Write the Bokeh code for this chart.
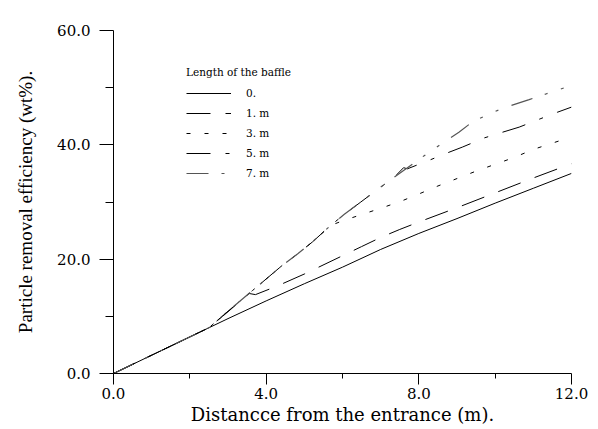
from bokeh.plotting import figure
from bokeh.models import Range1d, FixedTicker, Legend, LegendItem, PrintfTickFormatter
from bokeh.embed import file_html
from bokeh.resources import INLINE

# ---- data ----
x_ticks = [0, 4, 8, 12]
x_minor = [2, 6, 10]
y_ticks = [0, 20, 40, 60]
y_minor = [10, 30, 50]

x_0 = [0, 1, 2, 2.5, 3, 4, 5, 6, 7, 8, 9, 10, 11, 12]
y_0 = [0, 3.2, 6.4, 8.0, 9.6, 12.7, 15.7, 18.6, 21.7, 24.5, 27.1, 29.8, 32.4, 35.0]

x_1 = [0, 1, 2, 2.5, 3, 3.55, 3.72, 4.29, 5, 6, 6.5, 7, 7.5, 8, 9, 10, 11, 12]
y_1 = [0, 3.2, 6.4, 8.0, 10.8, 14.0, 13.8, 15.3, 17.4, 20.6, 22.2, 23.8, 25.2, 26.5, 29.0, 31.6, 34.2, 36.7]

x_3 = [0, 1, 2, 2.5, 3, 3.64, 4.42, 4.82, 5.21, 5.69, 6.0, 6.5, 7.0, 7.52, 8.0, 8.5, 9.0, 9.5, 10.0, 10.5, 11.0, 11.5, 12]
y_3 = [0, 3.2, 6.4, 8.0, 10.9, 14.5, 18.9, 20.9, 23.0, 25.9, 26.7, 27.8, 28.9, 30.1, 31.4, 32.8, 34.1, 35.4, 36.6, 37.8, 39.2, 40.3, 41.4]

x_5 = [0, 1, 2, 2.5, 3, 3.64, 4.42, 4.82, 5.21, 5.69, 6.04, 6.48, 7.0, 7.35, 7.6, 7.7, 8.27, 8.79, 9.14, 9.71, 10.19, 10.63, 11.2, 11.63, 12]
y_5 = [0, 3.2, 6.4, 8.0, 10.9, 14.5, 18.9, 20.9, 23.0, 25.9, 27.8, 30.0, 32.6, 34.3, 36.0, 35.8, 37.3, 38.7, 39.6, 41.2, 42.2, 43.1, 44.6, 45.7, 46.6]

x_7 = [0, 1, 2, 2.5, 3, 3.64, 4.42, 4.82, 5.21, 5.69, 6.04, 6.48, 7.0, 7.35, 8.14, 8.53, 9.05, 9.4, 9.84, 10.28, 10.89, 11.33, 12]
y_7 = [0, 3.2, 6.4, 8.0, 10.9, 14.5, 18.9, 20.9, 23.0, 25.9, 27.8, 30.0, 32.6, 34.3, 38.1, 39.9, 42.2, 44.0, 45.4, 46.6, 47.9, 48.9, 50.4]

labels = ["0.", "1. m", "3. m", "5. m", "7. m"]

SERIF = "Liberation Serif"
WIDE = "DejaVu Serif"

p = figure(width=598, height=429, output_backend="svg", toolbar_location=None,
           x_range=Range1d(0, 12), y_range=Range1d(0, 60),
           min_border_left=113, min_border_right=27, min_border_top=30, min_border_bottom=56,
           background_fill_color="white", border_fill_color="white")
p.outline_line_color = None
p.xgrid.visible = False
p.ygrid.visible = False

r0 = p.line(x_0, y_0, line_color="black", line_width=1)
r1 = p.line(x_1, y_1, line_color="black", line_width=1, line_dash="24 15")
r3 = p.line(x_3, y_3, line_color="black", line_width=1, line_dash="4 14")
r5 = p.line(x_5, y_5, line_color="black", line_width=1, line_dash="24 15 4 15")
r7 = p.line(x_7, y_7, line_color="#555555", line_width=1.2, line_dash="22 13 3 14 3 14")

# x axis
xa = p.xaxis[0]
xa.ticker = FixedTicker(ticks=x_ticks, minor_ticks=x_minor)
xa.formatter = PrintfTickFormatter(format="%.1f")
xa.major_tick_out = 11
xa.major_tick_in = 0
xa.minor_tick_out = 5
xa.minor_tick_in = 0
xa.axis_line_color = "black"
xa.major_tick_line_color = "black"
xa.minor_tick_line_color = "black"
xa.major_label_text_font = WIDE
xa.major_label_text_font_size = "15px"
xa.major_label_text_color = "black"
xa.major_label_standoff = 3
xa.axis_label = "Distancce from the entrance (m)."
xa.axis_label_text_font = WIDE
xa.axis_label_text_font_size = "18px"
xa.axis_label_text_font_style = "normal"
xa.axis_label_text_color = "black"
xa.axis_label_standoff = 2

# y axis
ya = p.yaxis[0]
ya.ticker = FixedTicker(ticks=y_ticks, minor_ticks=y_minor)
ya.formatter = PrintfTickFormatter(format="%.1f")
ya.major_tick_out = 14
ya.major_tick_in = 0
ya.minor_tick_out = 8
ya.minor_tick_in = 0
ya.axis_line_color = "black"
ya.major_tick_line_color = "black"
ya.minor_tick_line_color = "black"
ya.major_label_text_font = WIDE
ya.major_label_text_font_size = "15px"
ya.major_label_text_color = "black"
ya.major_label_standoff = 9
ya.axis_label = "Particle removal efficiency (wt%)."
ya.axis_label_text_font = SERIF
ya.axis_label_text_font_size = "19px"
ya.axis_label_text_font_style = "normal"
ya.axis_label_text_color = "black"
ya.axis_label_standoff = 18

legend = Legend(
    items=[LegendItem(label=labels[0], renderers=[r0]),
           LegendItem(label=labels[1], renderers=[r1]),
           LegendItem(label=labels[2], renderers=[r3]),
           LegendItem(label=labels[3], renderers=[r5]),
           LegendItem(label=labels[4], renderers=[r7])],
    title="Length of the baffle",
    location=(73, 190),
    title_text_font=WIDE, title_text_font_size="10.5px", title_text_font_style="normal",
    title_text_color="black", title_standoff=5,
    label_text_font=WIDE, label_text_font_size="10.5px", label_text_color="black",
    glyph_width=45, glyph_height=20, label_height=20, label_standoff=15,
    spacing=0, padding=0, margin=0,
    border_line_color=None, background_fill_alpha=0,
)
p.add_layout(legend)

open("out.html", "w").write(file_html(p, INLINE))
